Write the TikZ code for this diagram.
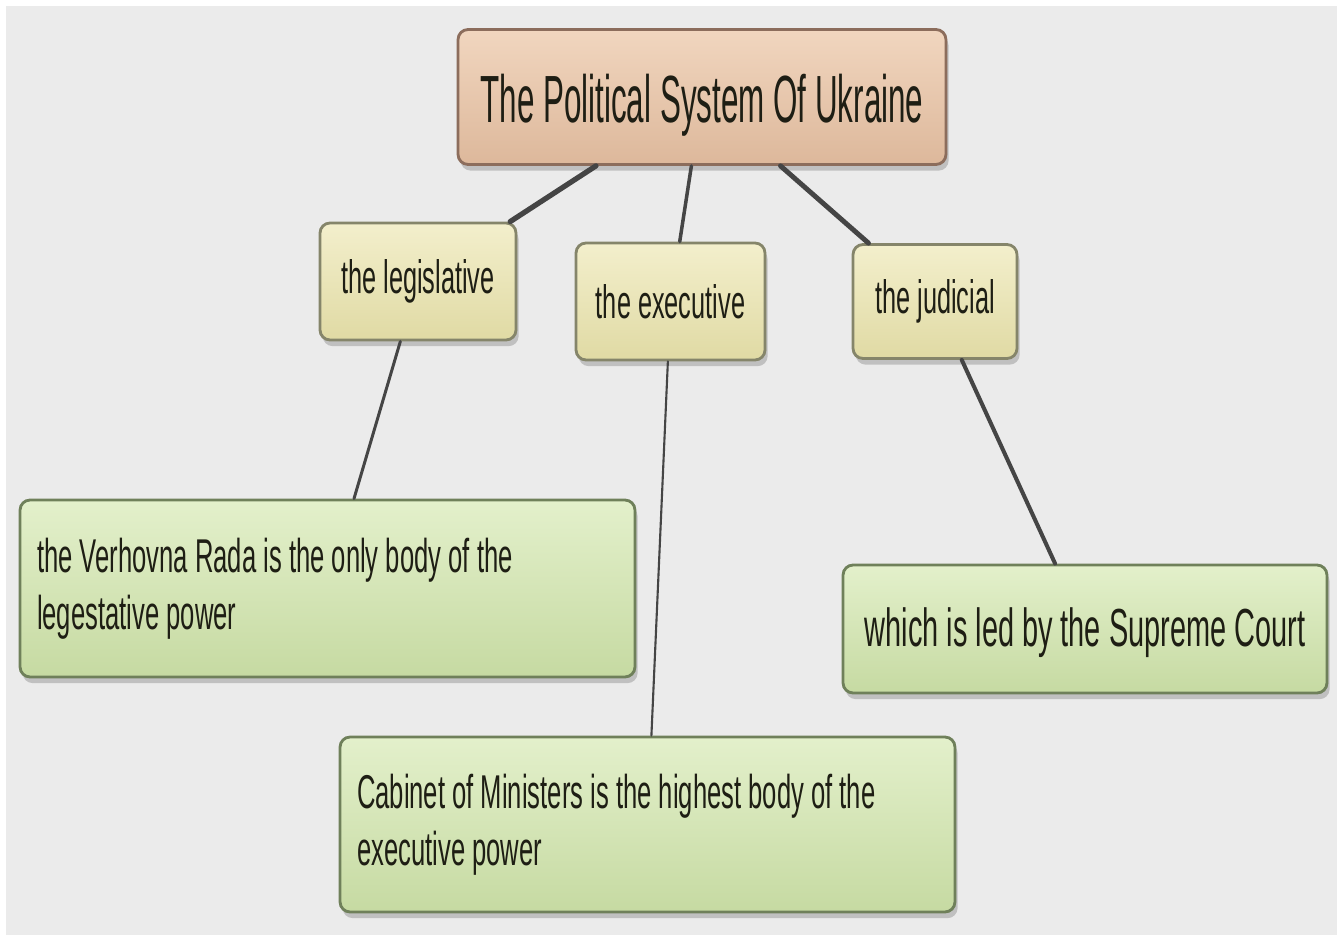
\documentclass[tikz,border=0pt]{standalone}
\usepackage{fontspec}
\setmainfont[FakeStretch=0.54]{Liberation Sans}
\newfontfamily\titlefont[FakeStretch=0.47]{Liberation Sans}
\usetikzlibrary{shadows}
\definecolor{bgcol}{HTML}{EBEBEB}
\definecolor{txtcol}{HTML}{1E1E14}
\definecolor{linecol}{HTML}{454545}
\definecolor{ytop}{HTML}{F3EFCC}
\definecolor{ybot}{HTML}{E0DAA4}
\definecolor{yedge}{HTML}{85856A}
\definecolor{gtop}{HTML}{E3F0CB}
\definecolor{gbot}{HTML}{C6DAA2}
\definecolor{gedge}{HTML}{6F805A}
\definecolor{ttop}{HTML}{F1D6BF}
\definecolor{tbot}{HTML}{DDB89B}
\definecolor{tedge}{HTML}{8C6D5C}
\newcommand{\firstline}[1]{\makebox[11.62cm][l]{#1}}
\tikzset{
  box/.style={rectangle, rounded corners=0.2cm, line width=1.6pt, text=txtcol,
    inner sep=0pt, drop shadow={shadow xshift=1.5pt, shadow yshift=-3.5pt, opacity=0.4}},
  titlebox/.style={box, draw=tedge, top color=ttop, bottom color=tbot},
  branchbox/.style={box, draw=yedge, top color=ytop, bottom color=ybot,
    font=\fontsize{26.7pt}{30pt}\selectfont},
  leafbox/.style={box, draw=gedge, top color=gtop, bottom color=gbot},
  twoline/.style={leafbox, align=left, inner xsep=0.34cm,
    font=\fontsize{27pt}{32.4pt}\selectfont},
  conn/.style={draw=linecol, line cap=round},
}
\begin{document}
\begin{tikzpicture}[x=0.02cm, y=-0.02cm]
\fill[white] (0,0) rectangle (1341,935);
\fill[bgcol] (6,6) rectangle (1337,935);
\useasboundingbox (0,0) rectangle (1341,935);

\node[titlebox, minimum width=9.76cm, minimum height=2.7cm,
  font=\titlefont\fontsize{38pt}{40pt}\selectfont] (title) at (702,97) {\raisebox{-4.5pt}[\height][\depth]{The Political System Of Ukraine}};

\node[branchbox, minimum width=3.92cm, minimum height=2.34cm] (leg) at (418,281.5) {the legislative};
\node[branchbox, minimum width=3.78cm, minimum height=2.34cm] (exe) at (670.5,301.5) {the executive};
\node[branchbox, minimum width=3.28cm, minimum height=2.28cm] (jud) at (935,301.5) {the judicial};

\node[twoline, minimum height=3.54cm] (ver) at (327.5,588.5) {\firstline{the Verhovna Rada is the only body of the}\\legestative power};
\node[leafbox, minimum width=9.68cm, minimum height=2.56cm,
  font=\fontsize{30.5pt}{34pt}\selectfont] (sup) at (1085,629) {\raisebox{-2pt}[\height][\depth]{which is led by the Supreme Court}};
\node[twoline, minimum height=3.5cm] (cab) at (647.5,824.5) {\firstline{Cabinet of Ministers is the highest body of the}\\executive power};

\draw[conn, line width=3pt] (title) -- (leg);
\draw[conn, line width=2.0pt] (title) -- (exe);
\draw[conn, line width=2.8pt] (title) -- (jud);
\draw[conn, line width=1.7pt] (leg) -- (ver);
\draw[conn, line width=1.2pt] (exe) -- (cab);
\draw[conn, line width=2.3pt] (jud) -- (sup);
\end{tikzpicture}
\end{document}
